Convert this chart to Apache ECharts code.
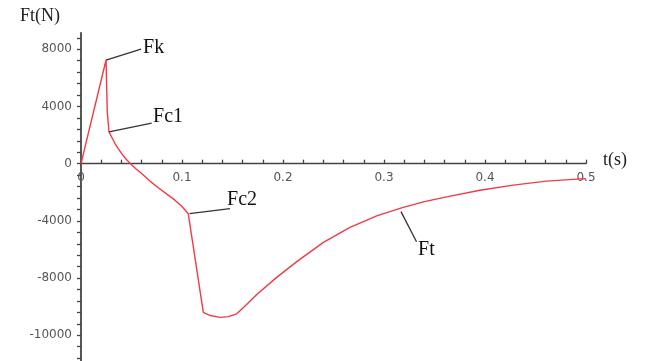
<!DOCTYPE html>
<html>
<head>
<meta charset="utf-8">
<script src="https://cdn.jsdelivr.net/npm/echarts@6/dist/echarts.min.js"></script>
<style>
html,body{margin:0;padding:0;background:#fff;}
#chart{width:651px;height:361px;}
</style>
</head>
<body>
<div id="chart"></div>
<script>
// ---- data ----
var timeValues = [0, 0.0248, 0.026, 0.0277, 0.031, 0.0337, 0.037, 0.0403, 0.0445, 0.049, 0.054, 0.060, 0.068, 0.0765, 0.085, 0.093, 0.1, 0.1062,
                  0.1211, 0.128, 0.1376, 0.146, 0.1542, 0.164, 0.174, 0.1938, 0.2136, 0.240, 0.2663, 0.2928, 0.319, 0.340, 0.362, 0.395, 0.428, 0.461, 0.491, 0.5];
var forceValues = [0, 7250, 3640, 2220, 1780, 1410, 1040, 700, 330, 0, -340, -690, -1200, -1680, -2130, -2550, -3000, -3500,
                   -10400, -10620, -10750, -10700, -10500, -9850, -9150, -7950, -6850, -5500, -4450, -3650, -3060, -2650, -2320, -1860, -1500, -1220, -1080, -1050];

var xTickValues = [0, 0.1, 0.2, 0.3, 0.4, 0.5];
var xTickLabels = ['0', '0.1', '0.2', '0.3', '0.4', '0.5'];
var yTickValues = [-12000, -8000, -4000, 0, 4000, 8000];
var yTickLabels = ['-10000', '-8000', '-4000', '0', '4000', '8000'];

var annotationNames = ['Fk', 'Fc1', 'Fc2', 'Ft'];
// leader line: from point on curve -> to label
var annotationFrom = [[0.0248, 7250], [0.0277, 2220], [0.1075, -3500], [0.3168, -3350]];
var annotationTo   = [[0.0594, 8020], [0.0700, 2830], [0.1475, -3140], [0.3322, -5460]];
var annotationText = [[0.0614, 8090], [0.0713, 3270], [0.1446, -2540], [0.3337, -6040]];

var seriesData = timeValues.map(function (t, i) { return [t, forceValues[i]]; });

var xMinorTicks = [];
for (var i = 0; i <= 25; i++) xMinorTicks.push(+(i * 0.02).toFixed(2));
var yMinorTicks = [];
for (var v = -13600; v <= 8800; v += 800) yMinorTicks.push(v);

var chart = echarts.init(document.getElementById('chart'));
var axisColor = '#444';
var labelColor = '#555';

var option = {
  animation: false,
  grid: { left: 81, right: 65, top: 33, bottom: 0, containLabel: false, outerBoundsMode: 'none' },
  xAxis: {
    type: 'value', min: 0, max: 0.5, position: 'bottom', offset: 0,
    axisLine: { onZero: false, lineStyle: { color: axisColor, width: 1.3 } },
    axisTick: { show: true, inside: true, length: 4, customValues: xMinorTicks, lineStyle: { color: axisColor, width: 1.3 } },
    axisLabel: {
      customValues: xTickValues, margin: 8, color: labelColor,
      fontFamily: 'DejaVu Sans', fontSize: 12,
      formatter: function (val) {
        var idx = xTickValues.findIndex(function (x) { return Math.abs(x - val) < 1e-9; });
        return idx >= 0 ? xTickLabels[idx] : '';
      }
    },
    splitLine: { show: false }
  },
  yAxis: {
    type: 'value', min: -13800, max: 9140,
    axisLine: { onZero: false, lineStyle: { color: axisColor, width: 1.8 } },
    axisTick: { show: true, inside: false, length: 4, customValues: yMinorTicks, lineStyle: { color: axisColor, width: 1.3 } },
    axisLabel: {
      customValues: yTickValues, margin: 9, color: labelColor,
      fontFamily: 'DejaVu Sans', fontSize: 12,
      formatter: function (val) {
        var idx = yTickValues.indexOf(val);
        return idx >= 0 ? yTickLabels[idx] : '';
      }
    },
    splitLine: { show: false }
  },
  series: [{
    type: 'line', data: seriesData, showSymbol: false, smooth: false,
    lineStyle: { color: '#ef3b47', width: 1.4 },
    z: 3
  }]
};
chart.setOption(option);

// move the x axis onto the zero line
var zeroY = chart.convertToPixel({ gridIndex: 0 }, [0, 0])[1];
var bottomY = chart.convertToPixel({ gridIndex: 0 }, [0, -13800])[1];
chart.setOption({ xAxis: { offset: zeroY - bottomY } });

function buildGraphics() {
  var els = [];
  for (var k = 0; k < annotationNames.length; k++) {
    var p1 = chart.convertToPixel({ gridIndex: 0 }, annotationFrom[k]);
    var p2 = chart.convertToPixel({ gridIndex: 0 }, annotationTo[k]);
    var p3 = chart.convertToPixel({ gridIndex: 0 }, annotationText[k]);
    els.push({
      type: 'line', z: 10,
      shape: { x1: p1[0], y1: p1[1], x2: p2[0], y2: p2[1] },
      style: { stroke: '#333', lineWidth: 1.3 }
    });
    els.push({
      type: 'text', z: 10, x: p3[0], y: p3[1],
      style: { text: annotationNames[k], fill: '#111', font: '20px "Liberation Serif"', textAlign: 'left', textVerticalAlign: 'middle' }
    });
  }
  els.push({ type: 'text', left: 20, top: 7, style: { text: 'Ft(N)', fill: '#222', font: '18px "Liberation Serif"' } });
  els.push({ type: 'text', left: 603, top: 151, style: { text: 't(s)', fill: '#222', font: '18px "Liberation Serif"' } });
  chart.setOption({ graphic: { elements: els } });
}
buildGraphics();
</script>
</body>
</html>
